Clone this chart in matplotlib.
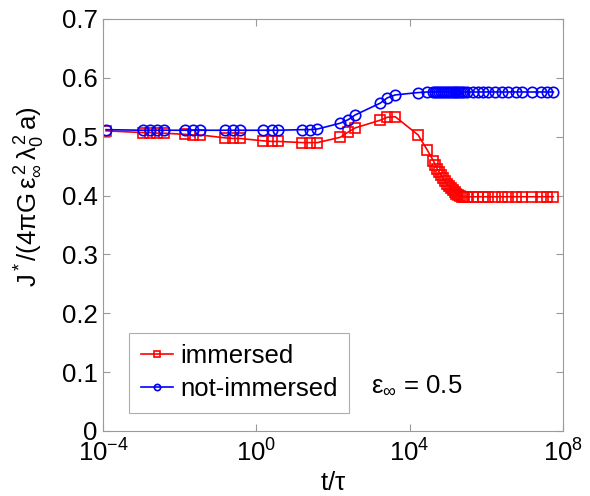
import matplotlib
matplotlib.use("Agg")
import matplotlib.pyplot as plt
from matplotlib.ticker import FixedLocator, NullLocator

plt.rcParams['font.family'] = ['Liberation Sans', 'DejaVu Sans']
plt.rcParams['mathtext.fontset'] = 'custom'
plt.rcParams['mathtext.rm'] = 'Liberation Sans'
plt.rcParams['mathtext.it'] = 'Liberation Sans'
plt.rcParams['mathtext.bf'] = 'Liberation Sans:bold'

# time grid t/tau
t = [1.2e-4,
     1.1e-3, 1.7e-3, 2.6e-3, 3.8e-3,
     1.4e-2, 2.2e-2, 3.4e-2,
     0.155, 0.25, 0.38,
     1.5, 2.6, 3.7,
     16, 25, 39,
     155, 250, 380,
     1700, 2600, 4200,
     1.66e4, 2.9e4,
     4.17e4, 4.68e4, 5.25e4, 5.89e4, 6.61e4, 7.41e4, 8.32e4, 9.33e4,
     1.047e5, 1.175e5, 1.318e5, 1.479e5, 1.66e5, 1.862e5, 2.089e5, 2.344e5, 2.63e5,
     3.2e5, 4.6e5, 6.2e5, 8.3e5, 1.12e6,
     1.7e6, 2.6e6, 3.7e6, 5.8e6, 8.7e6,
     1.6e7, 2.6e7, 3.9e7, 5.6e7]

immersed = [0.510,
            0.507, 0.507, 0.506, 0.506,
            0.504, 0.503, 0.503,
            0.498, 0.497, 0.497,
            0.493, 0.492, 0.492,
            0.490, 0.490, 0.490,
            0.499, 0.508, 0.515,
            0.528, 0.533, 0.534,
            0.503, 0.477,
            0.459, 0.452, 0.445, 0.440, 0.435, 0.430, 0.425, 0.420,
            0.416, 0.413, 0.409, 0.406, 0.403, 0.401, 0.399, 0.398, 0.398,
            0.398, 0.398, 0.398, 0.398, 0.398,
            0.398, 0.398, 0.398, 0.398, 0.398,
            0.398, 0.398, 0.398, 0.398]

not_immersed = [0.512,
                0.511, 0.511, 0.511, 0.511,
                0.511, 0.511, 0.511,
                0.511, 0.511, 0.511,
                0.511, 0.511, 0.511,
                0.512, 0.512, 0.513,
                0.523, 0.529, 0.537,
                0.557, 0.566, 0.571,
                0.575, 0.576,
                0.576, 0.576, 0.576, 0.576, 0.576, 0.576, 0.576, 0.576,
                0.576, 0.576, 0.576, 0.576, 0.576, 0.576, 0.576, 0.576, 0.576,
                0.576, 0.576, 0.576, 0.576, 0.576,
                0.576, 0.576, 0.576, 0.576, 0.576,
                0.576, 0.576, 0.576, 0.576]

x_ticks = [1e-4, 1e0, 1e4, 1e8]
x_ticklabels = [r'$\mathregular{10^{-4}}$', r'$\mathregular{10^{0}}$',
                r'$\mathregular{10^{4}}$', r'$\mathregular{10^{8}}$']
y_ticks = [0, 0.1, 0.2, 0.3, 0.4, 0.5, 0.6, 0.7]
y_ticklabels = ['0', '0.1', '0.2', '0.3', '0.4', '0.5', '0.6', '0.7']

FS = 18.5

fig = plt.figure(figsize=(5.90, 4.96), dpi=100)
ax = fig.add_axes([103/590, 1-431/496, (563-103)/590, (431-19)/496])

ax.plot(t, immersed, color='red', marker='s', markersize=6.5, markerfacecolor='none',
        markeredgewidth=1.2, linewidth=1.2, label='immersed')
ax.plot(t, not_immersed, color='blue', marker='o', markersize=7.5, markerfacecolor='none',
        markeredgewidth=1.2, linewidth=1.2, label='not-immersed')

ax.set_xscale('log')
ax.set_xlim(1e-4, 1e8)
ax.set_ylim(0, 0.7)
ax.xaxis.set_major_locator(FixedLocator(x_ticks))
ax.xaxis.set_minor_locator(NullLocator())
ax.set_xticklabels(x_ticklabels)
ax.set_yticks(y_ticks)
ax.set_yticklabels(y_ticklabels)

for s in ax.spines.values():
    s.set_color('#9a9a9a')
    s.set_linewidth(0.8)
ax.tick_params(which='both', direction='in', top=True, right=True, length=5,
               width=0.8, color='#9a9a9a', labelsize=FS, labelcolor='black')
ax.tick_params(axis='x', pad=6)
ax.tick_params(axis='y', pad=4)

ax.set_xlabel(r'$\mathregular{t/\tau}$', fontsize=FS, labelpad=3)
ax.set_ylabel(r'$\mathregular{J^*/(4\pi G\,\varepsilon_\infty^{\,2}\,\lambda_0^{\,2}\,a)}$',
              fontsize=FS, labelpad=2)
ax.yaxis.set_label_coords(-0.122, (431-197)/412)

leg = ax.legend(loc='lower left', bbox_to_anchor=((129-103)/460, (431-413)/412),
                fontsize=FS, frameon=True, fancybox=False, edgecolor='#9a9a9a',
                markerscale=0.6, handlelength=1.25, handletextpad=0.3,
                borderpad=0.45, labelspacing=0.35, borderaxespad=0)
leg.get_frame().set_linewidth(0.8)

fig.text(371/590, 1-385/496, r'$\mathregular{\varepsilon_\infty}$ = 0.5', fontsize=FS,
         va='center', ha='left')

fig.savefig('out.png', dpi=100)
